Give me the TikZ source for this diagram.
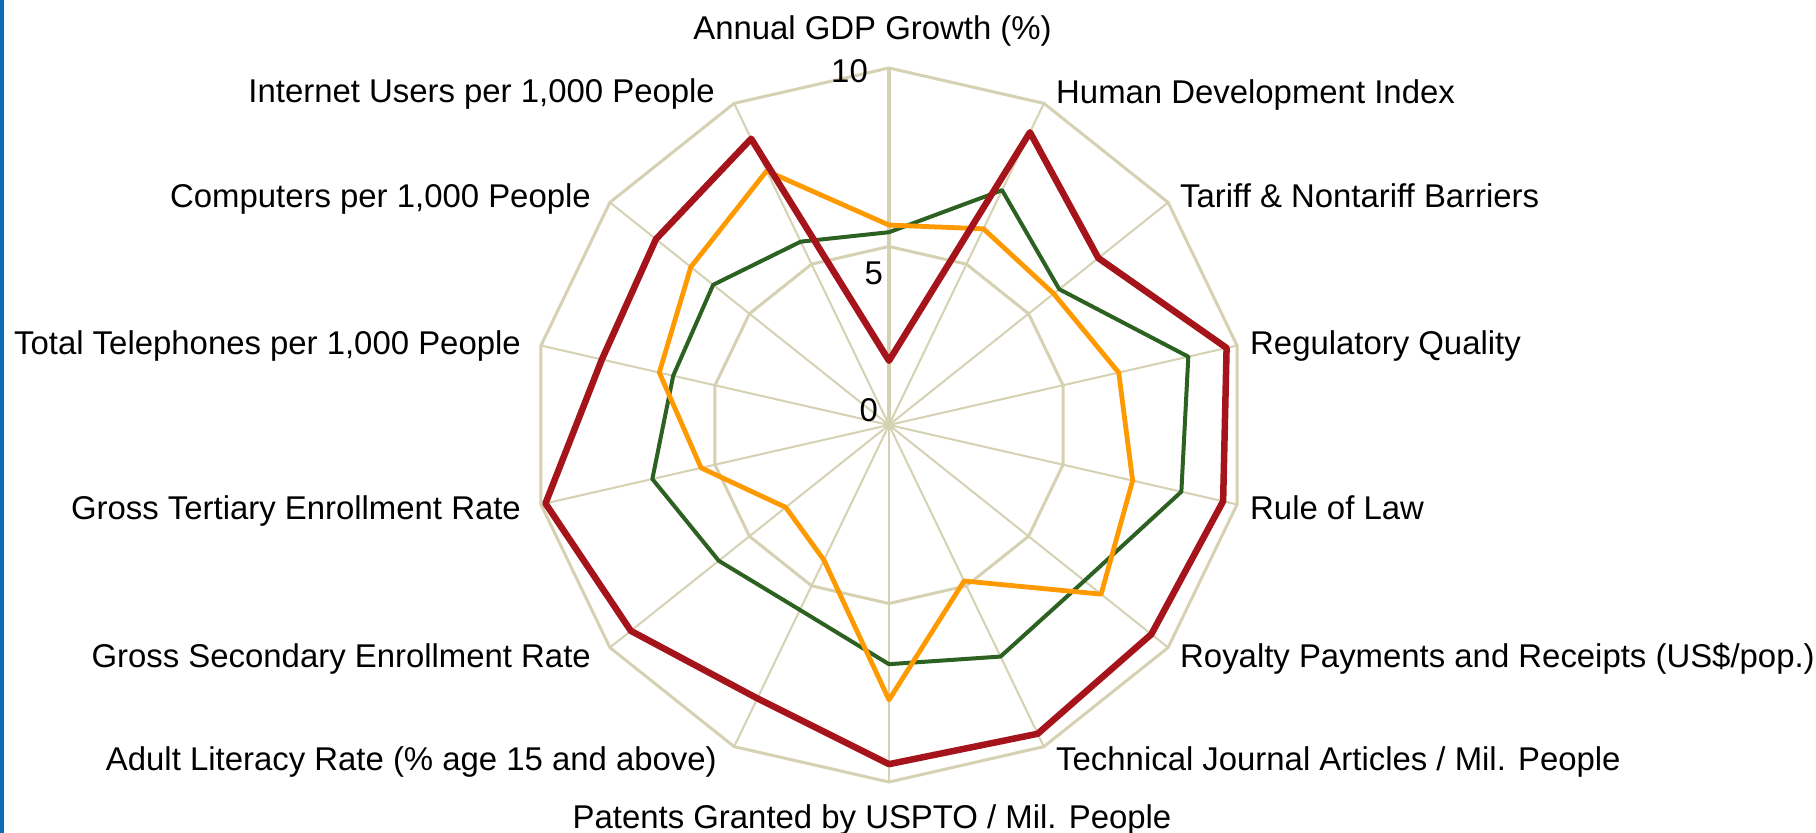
\documentclass[tikz,border=0pt]{standalone}
\usepackage{fontspec}
\setmainfont{Liberation Sans}
\usetikzlibrary{calc}
\definecolor{gridc}{RGB}{213,209,178}
\definecolor{redc}{RGB}{165,20,26}
\definecolor{greenc}{RGB}{45,97,34}
\definecolor{orangec}{RGB}{255,153,0}
\definecolor{bluec}{RGB}{10,110,180}
\tikzset{
  lbl/.style={inner sep=0pt, font=\fontsize{32.9}{38}\selectfont},
  spoke/.style={draw=gridc, line width=2pt},
  ring/.style={draw=gridc, line width=3pt, line join=miter},
  serA/.style={draw=redc, line width=6.5pt, line join=round},
  serB/.style={draw=greenc, line width=4pt, line join=round},
  serC/.style={draw=orangec, line width=4.8pt, line join=round},
}
\newcommand\mkseries[2]{%
  \foreach \v [count=\k from 0] in {#2} {
    \coordinate (#1\k) at ($(C)+({90-\k*360/14}:{\v*35.7})$);
  }%
}
\begin{document}
\begin{tikzpicture}[x=1pt,y=1pt]
\useasboundingbox (0,0) rectangle (1816,833);
\fill[white] (0,0) rectangle (1816,833);
\fill[bluec] (0,0) rectangle (4,833);
\coordinate (C) at (889,408);
% grid
\mkseries{o}{10,10,10,10,10,10,10,10,10,10,10,10,10,10}
\mkseries{m}{5,5,5,5,5,5,5,5,5,5,5,5,5,5}
\foreach \k in {1,...,13} {\path[spoke] (C) -- (o\k);}
\path[ring] (o0) \foreach \k in {1,...,13}{ -- (o\k)} -- cycle;
\path[ring] (m0) \foreach \k in {1,...,13}{ -- (m\k)} -- cycle;
\draw[gridc, line width=4pt] (C) -- (o0);
\fill[gridc] (C) circle (5);
% data
\mkseries{g}{5.4,7.3,6.1,8.6,8.4,7.0,7.2,6.7,5.75,6.1,6.8,6.2,6.3,5.7}
\mkseries{y}{5.6,6.1,5.9,6.6,7.0,7.6,4.85,7.7,4.2,3.7,5.4,6.6,7.1,7.9}
\mkseries{r}{1.8,9.1,7.5,9.7,9.6,9.4,9.6,9.5,8.5,9.25,9.87,8.25,8.35,8.9}
\path[serB] (g0) \foreach \k in {1,...,13}{ -- (g\k)} -- cycle;
\path[serC] (y0) \foreach \k in {1,...,13}{ -- (y\k)} -- cycle;
\path[serA] (r0) \foreach \k in {1,...,13}{ -- (r\k)} -- cycle;
% tick labels
\node[lbl, anchor=base east] (t10) at (868,750) {10};
\node[lbl, anchor=base east] (t5) at (883,548) {5};
\node[lbl, anchor=base east] (t0) at (878,411) {0};
% axis labels
\node[lbl, anchor=base] (L0) at (872.5,793) {Annual GDP Growth (\%)};
\node[lbl, anchor=base west] (L1) at (1056,729) {Human Development Index};
\node[lbl, anchor=base west] (L2) at (1180,625) {Tariff \& Nontariff Barriers};
\node[lbl, anchor=base west] (L3) at (1250,478) {Regulatory Quality};
\node[lbl, anchor=base west] (L4) at (1250,313) {Rule of Law};
\node[lbl, anchor=base west] (L5) at (1180,165) {Royalty Payments and Receipts (US\$/pop.)};
\node[lbl, anchor=base west] (L6) at (1056,62) {Technical Journal Articles / Mil. People};
\node[lbl, anchor=base] (L7) at (872,5) {Patents Granted by USPTO / Mil. People};
\node[lbl, anchor=base east] (L8) at (717,62) {Adult Literacy Rate (\% age 15 and above)};
\node[lbl, anchor=base east] (L9) at (591,165) {Gross Secondary Enrollment Rate};
\node[lbl, anchor=base east] (L10) at (521,313) {Gross Tertiary Enrollment Rate};
\node[lbl, anchor=base east] (L11) at (521,478) {Total Telephones per 1,000 People};
\node[lbl, anchor=base east] (L12) at (591,625) {Computers per 1,000 People};
\node[lbl, anchor=base east] (L13) at (715,730) {Internet Users per 1,000 People};
\end{tikzpicture}
\end{document}
